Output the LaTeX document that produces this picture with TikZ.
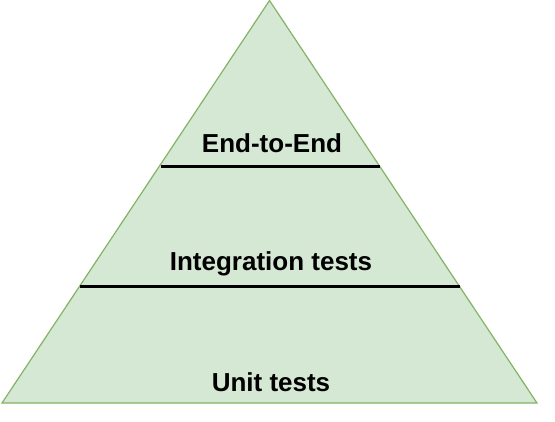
\documentclass[tikz,border=0pt]{standalone}
\usepackage{fontspec}
\setmainfont{Liberation Sans}
\definecolor{pyrfill}{HTML}{D5E8D4}
\definecolor{pyrline}{HTML}{82B366}
\begin{document}
\begin{tikzpicture}[x=1pt,y=-1pt,
  layer/.style={font=\bfseries\fontsize{26}{30}\selectfont, inner sep=0pt, anchor=center},
  divider/.style={line width=3pt, black}]
\useasboundingbox (0,0) rectangle (555,421);
\coordinate (apex) at (269.5,0.5);
\coordinate (bl) at (2,403);
\coordinate (br) at (537,403);
\fill[pyrfill] (apex) -- (bl) -- (br) -- cycle;
\draw[pyrline, line width=1.2pt, line join=miter] (apex) -- (bl) -- (br) -- cycle;
\coordinate (d1l) at (160.5,166.7);
\coordinate (d1r) at (380,166.7);
\coordinate (d2l) at (80,286.7);
\coordinate (d2r) at (460,286.7);
\draw[divider] (d1l) -- (d1r);
\draw[divider] (d2l) -- (d2r);
\node[layer] (e2e) at (272,143.5) {End-to-End};
\node[layer] (integ) at (271,263.5) {Integration tests};
\node[layer] (unit) at (271,382) {Unit tests};
\end{tikzpicture}
\end{document}
